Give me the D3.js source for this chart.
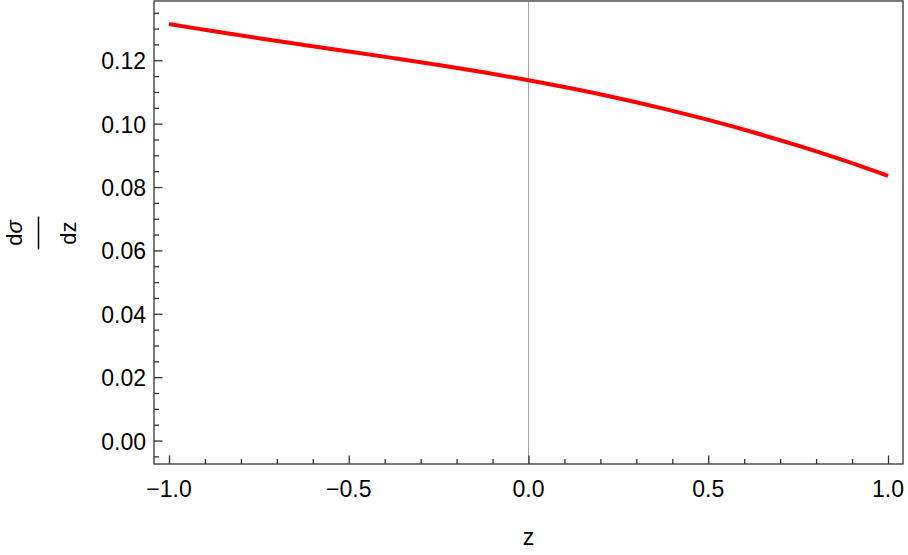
<!doctype html>
<html>
<head>
<meta charset="utf-8">
<script src="https://d3js.org/d3.v7.min.js"></script>
<style>
  body { margin: 0; background: #fff; }
  text { font-family: "Liberation Sans", Arial, Helvetica, sans-serif; fill: #000; }
</style>
</head>
<body>
<svg width="908" height="555"></svg>
<script>
// curve, dσ/dz against z
var zValues = [-1, -0.875, -0.75, -0.625, -0.5, -0.375, -0.25, -0.125, 0,
               0.125, 0.25, 0.375, 0.5, 0.625, 0.75, 0.875, 1];
var dsdzValues = [0.13145, 0.12913, 0.12694, 0.12484, 0.12278, 0.12068, 0.11851, 0.11621, 0.11372,
                  0.11100, 0.10801, 0.10474, 0.10117, 0.09728, 0.09305, 0.08846, 0.08350];

var xTicks = [-1, -0.5, 0, 0.5, 1];
var xTickLabels = ["\u22121.0", "\u22120.5", "0.0", "0.5", "1.0"];
var xMinorTicks = d3.range(-10, 11).map(function(i) { return i / 10; });
var yTicks = [0, 0.02, 0.04, 0.06, 0.08, 0.10, 0.12];
var yTickLabels = ["0.00", "0.02", "0.04", "0.06", "0.08", "0.10", "0.12"];
var yMinorTicks = d3.range(-1, 28).map(function(i) { return i * 0.005; });

var svg = d3.select("svg");
var plotLeft = 154, plotRight = 903, plotTop = 1, plotBottom = 464;

var x = d3.scaleLinear().domain([-1.0417, 1.0417]).range([plotLeft, plotRight]);
var y = d3.scaleLinear().domain([-0.0074, 0.1387]).range([plotBottom, plotTop]);

var frameColor = "#333";

// vertical axis at z = 0
svg.append("line")
    .attr("x1", x(0)).attr("x2", x(0))
    .attr("y1", plotTop).attr("y2", plotBottom)
    .attr("stroke", "#a6a6a6").attr("stroke-width", 1);

// the curve
var pts = zValues.map(function(z, i) { return [z, dsdzValues[i]]; });
svg.append("path")
    .datum(pts)
    .attr("fill", "none")
    .attr("stroke", "#ff0000")
    .attr("stroke-width", 4)
    .attr("d", d3.line()
        .x(function(d) { return x(d[0]); })
        .y(function(d) { return y(d[1]); })
        .curve(d3.curveCatmullRom));

// frame
svg.append("rect")
    .attr("x", plotLeft).attr("y", plotTop)
    .attr("width", plotRight - plotLeft).attr("height", plotBottom - plotTop)
    .attr("fill", "none").attr("stroke", frameColor).attr("stroke-width", 1.3);

// bottom ticks, inward
var bottomAxis = d3.axisBottom(x).tickValues(xMinorTicks).tickFormat("").tickSizeInner(-5).tickSizeOuter(0);
var bg = svg.append("g").attr("transform", "translate(0," + plotBottom + ")").call(bottomAxis);
bg.selectAll("line").attr("y2", function(d) {
    return xTicks.some(function(t) { return Math.abs(t - d) < 1e-9; }) ? -8.5 : -5;
});
bg.select(".domain").remove();
bg.selectAll("line").attr("stroke", frameColor).attr("stroke-width", 1.3);

// left ticks, inward
var leftAxis = d3.axisLeft(y).tickValues(yMinorTicks.filter(function(v) { return v > -0.0074 && v < 0.1387; }))
    .tickFormat("").tickSizeInner(-5).tickSizeOuter(0);
var lg = svg.append("g").attr("transform", "translate(" + plotLeft + ",0)").call(leftAxis);
lg.selectAll("line").attr("x2", function(d) {
    return yTicks.some(function(t) { return Math.abs(t - d) < 1e-9; }) ? 8.5 : 5;
});
lg.select(".domain").remove();
lg.selectAll("line").attr("stroke", frameColor).attr("stroke-width", 1.3);

// tick labels
svg.append("g").selectAll("text")
    .data(xTicks)
    .enter().append("text")
    .attr("x", function(d) { return x(d); })
    .attr("y", 497)
    .attr("text-anchor", "middle")
    .style("font-size", "23px")
    .text(function(d, i) { return xTickLabels[i]; });

svg.append("g").selectAll("text")
    .data(yTicks)
    .enter().append("text")
    .attr("x", 146)
    .attr("y", function(d) { return y(d) + 9; })
    .attr("text-anchor", "end")
    .style("font-size", "23px")
    .text(function(d, i) { return yTickLabels[i]; });

// axis labels
svg.append("text")
    .attr("x", x(0)).attr("y", 545)
    .attr("text-anchor", "middle")
    .style("font-size", "23px")
    .text("z");

var yl = svg.append("g").attr("transform", "translate(38.5,233) rotate(-90)");
var num = yl.append("text").attr("x", 0).attr("y", -16.5)
    .attr("text-anchor", "middle").style("font-size", "22px");
num.append("tspan").text("d");
num.append("tspan").style("font-style", "italic").text("\u03c3");
yl.append("line")
    .attr("x1", -16.5).attr("x2", 16.5)
    .attr("y1", 0).attr("y2", 0)
    .attr("stroke", "#000").attr("stroke-width", 1.5);
yl.append("text").attr("x", 0).attr("y", 37.5)
    .attr("text-anchor", "middle").style("font-size", "22px")
    .text("dz");
</script>
</body>
</html>
